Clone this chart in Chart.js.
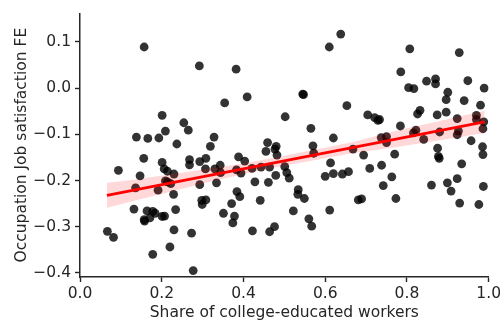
<!DOCTYPE html>
<html>
<head>
<meta charset="utf-8">
<script src="https://cdn.jsdelivr.net/npm/chart.js@4.4.1/dist/chart.umd.min.js"></script>
<style>
  html, body { margin: 0; padding: 0; background: #ffffff; }
  canvas { display: block; }
</style>
</head>
<body>
<canvas id="chart" width="504" height="325"></canvas>
<script>
// Occupations: share of college-educated workers vs. job satisfaction fixed effect
const shareX = [
  0.157, 0.292, 0.201, 0.254, 0.209, 0.265, 0.138, 0.166, 0.193, 0.237, 0.319,
  0.382, 0.638, 0.610, 0.354, 0.409, 0.545, 0.547, 0.653, 0.502, 0.565, 0.620, 0.328, 0.459, 0.480, 0.477, 0.455, 0.570, 0.572,
  0.807, 0.928, 0.785, 0.848, 0.870, 0.870, 0.804, 0.817, 0.949, 0.989, 0.900, 0.896, 0.940, 0.980, 0.704, 0.721, 0.729, 0.733,
  0.832, 0.826, 0.874, 0.896, 0.923, 0.970, 0.970, 0.988, 0.986, 0.784, 0.822, 0.816, 0.880, 0.926, 0.923, 0.737, 0.750, 0.750,
  0.841, 0.957, 0.875, 0.985, 0.668,
  0.877, 0.879, 0.986, 0.934, 0.694, 0.770, 0.709, 0.738, 0.763, 0.642, 0.657, 0.742, 0.681, 0.689, 0.773, 0.860, 0.899, 0.923,
  0.908, 0.987, 0.929, 0.976,
  0.094, 0.067, 0.082, 0.147, 0.156, 0.136, 0.132, 0.164, 0.157, 0.158, 0.171, 0.178, 0.184, 0.201, 0.207, 0.191, 0.201, 0.206,
  0.214, 0.230, 0.209, 0.214, 0.222, 0.229, 0.234, 0.230, 0.220, 0.178, 0.273, 0.277, 0.268, 0.268, 0.293, 0.308, 0.307, 0.293,
  0.298, 0.299, 0.308,
  0.482, 0.330, 0.343, 0.344, 0.334, 0.388, 0.403, 0.383, 0.394, 0.421, 0.443, 0.464, 0.479, 0.501, 0.506, 0.512, 0.428, 0.461,
  0.384, 0.391, 0.371, 0.351, 0.378, 0.374, 0.441, 0.422, 0.476, 0.464, 0.534, 0.533, 0.549, 0.522, 0.560, 0.567, 0.611, 0.613,
  0.600, 0.620
];
const jobFE = [
  0.089, 0.048, -0.059, -0.075, -0.093, -0.091, -0.106, -0.109, -0.108, -0.121, -0.126,
  0.041, 0.117, 0.089, -0.032, -0.019, -0.013, -0.014, -0.038, -0.062, -0.087, -0.108, -0.106, -0.118, -0.126, -0.132, -0.137, -0.125, -0.141,
  0.085, 0.077, 0.035, 0.015, 0.020, 0.009, 0.001, -0.001, 0.016, 0.000, -0.009, -0.025, -0.027, -0.037, -0.058, -0.064, -0.070, -0.068,
  -0.048, -0.056, -0.058, -0.052, -0.066, -0.059, -0.068, -0.073, -0.088, -0.082, -0.091, -0.097, -0.095, -0.093, -0.101, -0.107, -0.105, -0.118,
  -0.111, -0.114, -0.130, -0.127, -0.132,
  -0.148, -0.152, -0.144, -0.164, -0.145, -0.143, -0.174, -0.167, -0.192, -0.186, -0.181, -0.211, -0.242, -0.240, -0.239, -0.210, -0.205, -0.196,
  -0.223, -0.213, -0.249, -0.252,
  -0.178, -0.310, -0.323, -0.190, -0.152, -0.216, -0.262, -0.266, -0.285, -0.288, -0.281, -0.267, -0.271, -0.278, -0.277, -0.221, -0.161, -0.175,
  -0.180, -0.186, -0.201, -0.203, -0.207, -0.230, -0.263, -0.307, -0.344, -0.360, -0.314, -0.395, -0.155, -0.166, -0.159, -0.152, -0.175, -0.209,
  -0.243, -0.252, -0.242,
  -0.145, -0.175, -0.167, -0.183, -0.205, -0.149, -0.158, -0.177, -0.184, -0.174, -0.171, -0.171, -0.189, -0.170, -0.183, -0.195, -0.203, -0.204,
  -0.224, -0.235, -0.250, -0.271, -0.277, -0.292, -0.243, -0.309, -0.300, -0.311, -0.220, -0.230, -0.239, -0.266, -0.283, -0.299, -0.264, -0.162,
  -0.191, -0.185
];

// Linear fit and its 95% confidence band
const fitX = [0.066, 0.990];
const fitY = [-0.232, -0.073];
const bandX = [0.066, 0.15, 0.29, 0.42, 0.55, 0.66, 0.78, 0.88, 0.99];
const bandLow = [-0.259, -0.240, -0.209, -0.182, -0.160, -0.142, -0.127, -0.113, -0.097];
const bandHigh = [-0.205, -0.196, -0.178, -0.160, -0.138, -0.118, -0.091, -0.071, -0.049];

// Axis ticks
const xTicks = [0.0, 0.2, 0.4, 0.6, 0.8, 1.0];
const yTicks = [-0.4, -0.3, -0.2, -0.1, 0.0, 0.1];

if (shareX.length !== jobFE.length) {
  throw new Error('x/y length mismatch: ' + shareX.length + ' vs ' + jobFE.length);
}

const ink = '#262626';
const pts = (xs, ys) => xs.map((x, i) => ({ x: x, y: ys[i] }));
const fmt = v => (v < -1e-9 ? '\u2212' : '') + Math.abs(v).toFixed(1);

Chart.defaults.font.family = '"DejaVu Sans", sans-serif';
Chart.defaults.font.size = 15.5;
Chart.defaults.color = ink;

new Chart(document.getElementById('chart'), {
  type: 'line',
  data: {
    datasets: [
      {
        label: 'fit',
        data: pts(fitX, fitY),
        borderColor: 'rgb(255,0,0)',
        borderWidth: 2.8,
        pointRadius: 0,
        fill: false,
        tension: 0
      },
      {
        label: 'ci-high',
        data: pts(bandX, bandHigh),
        borderWidth: 0,
        borderColor: 'rgba(0,0,0,0)',
        backgroundColor: 'rgba(255,0,0,0.15)',
        pointRadius: 0,
        fill: '+1',
        tension: 0.2
      },
      {
        label: 'ci-low',
        data: pts(bandX, bandLow),
        borderWidth: 0,
        borderColor: 'rgba(0,0,0,0)',
        pointRadius: 0,
        fill: false,
        tension: 0.2
      },
      {
        label: 'occupations',
        data: pts(shareX, jobFE),
        showLine: false,
        pointRadius: 4.4,
        pointHoverRadius: 4.4,
        pointBorderWidth: 0,
        pointBackgroundColor: 'rgba(0,0,0,0.8)',
        pointBorderColor: 'rgba(0,0,0,0)'
      }
    ]
  },
  options: {
    responsive: false,
    animation: false,
    devicePixelRatio: 1,
    events: [],
    layout: { padding: { left: 0, right: 15, top: 8, bottom: 0 } },
    plugins: {
      legend: { display: false },
      tooltip: { enabled: false }
    },
    scales: {
      x: {
        type: 'linear',
        min: 0,
        max: 1,
        afterBuildTicks: s => { s.ticks = xTicks.map(v => ({ value: v })); },
        afterFit: s => { s.height = 48; },
        grid: { drawOnChartArea: false, drawTicks: true, tickLength: 5, tickColor: ink, tickWidth: 1.4 },
        border: { display: true, color: ink, width: 1.5 },
        ticks: { color: ink, padding: 3, maxRotation: 0, autoSkip: false, callback: v => fmt(v) },
        title: {
          display: true,
          text: 'Share of college-educated workers',
          color: ink,
          padding: { top: 0, bottom: 3 }
        }
      },
      y: {
        type: 'linear',
        min: -0.409,
        max: 0.162,
        afterBuildTicks: s => { s.ticks = yTicks.map(v => ({ value: v })); },
        afterFit: s => { s.width = 80; },
        grid: { drawOnChartArea: false, drawTicks: true, tickLength: 5, tickColor: ink, tickWidth: 1.4 },
        border: { display: true, color: ink, width: 1.5 },
        ticks: { color: ink, padding: 4, autoSkip: false, callback: v => fmt(v) },
        title: {
          display: true,
          text: 'Occupation Job satisfaction FE',
          color: ink,
          padding: { top: 12.7, bottom: 0 }
        }
      }
    }
  }
});
</script>
</body>
</html>
